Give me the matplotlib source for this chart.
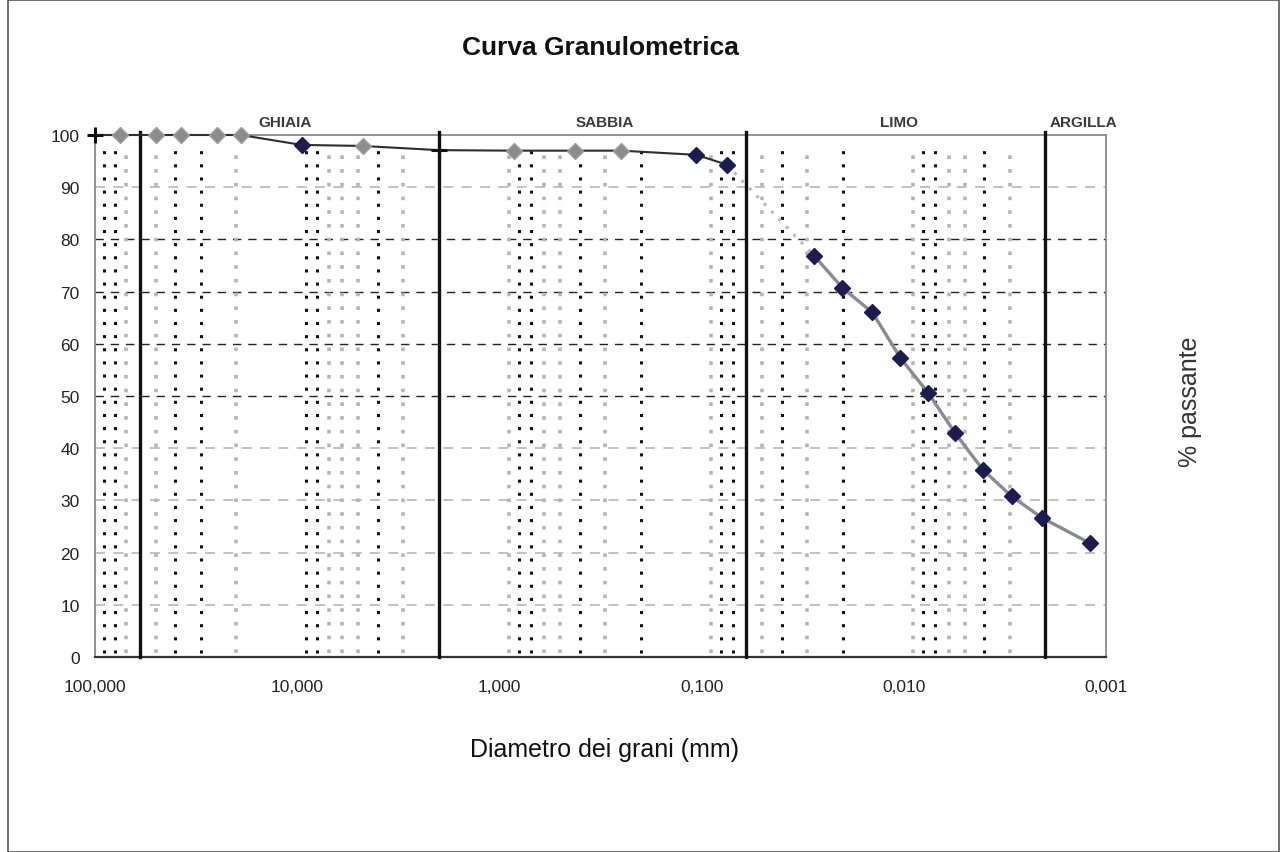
import matplotlib
matplotlib.use("Agg")
import matplotlib.pyplot as plt
from matplotlib.patches import Rectangle
from matplotlib.ticker import FixedLocator, FixedFormatter, NullLocator

plt.rcParams['font.family'] = ['Liberation Sans', 'DejaVu Sans']

# Sieve analysis: diameter (mm) and percent passing
sieve_d = [100, 75, 50, 37.5, 25, 19, 9.5, 4.75, 2, 0.85, 0.425, 0.25, 0.106, 0.075]
sieve_p = [100, 100, 100, 100, 100, 100, 98.1, 97.9, 97.1, 97.0, 97.0, 97.0, 96.2, 94.3]
# Marker tone per sieve point
sieve_tone = ['plus', 'faint', 'faint', 'faint', 'faint', 'faint', 'dark', 'faint',
              'plus', 'faint', 'faint', 'faint', 'dark', 'dark']

# Hydrometer (sedimentation) analysis
hydro_d = [0.0278, 0.0201, 0.0143, 0.0104, 0.00758, 0.0056, 0.00405, 0.00293, 0.00208, 0.0012]
hydro_p = [76.9, 70.7, 66.0, 57.3, 50.6, 43.0, 35.8, 30.8, 26.7, 21.8]

# Classification limits (mm) and class names
class_limits = [60, 2, 0.06, 0.002]
class_names = ['GHIAIA', 'SABBIA', 'LIMO', 'ARGILLA']
class_label_x = [11.5, 0.30, 0.0106, 0.0013]

# Reference diameters drawn as dotted verticals
ref_dark = [90, 80, 40, 30, 9, 8, 4, 0.8, 0.7, 0.4, 0.2, 0.08, 0.07, 0.04, 0.02,
            0.008, 0.007, 0.004]
ref_light = [70, 50, 20, 7, 6, 5, 3, 0.9, 0.6, 0.5, 0.3, 0.09, 0.05, 0.03,
             0.009, 0.006, 0.005, 0.003]

x_ticks = [100, 10, 1, 0.1, 0.01, 0.001]
x_tick_labels = ['100,000', '10,000', '1,000', '0,100', '0,010', '0,001']
y_ticks = list(range(0, 101, 10))
grid_dark = [50, 60, 70, 80]
grid_light = [10, 20, 30, 40, 90]

W, H = 1281, 853
fig = plt.figure(figsize=(W / 100, H / 100), dpi=100)
fig.patch.set_facecolor('white')

ax = fig.add_axes([95 / W, 1 - 658 / H, (1106 - 95) / W, (658 - 136) / H])
ax.set_xscale('log')
ax.set_xlim(100, 0.001)
ax.set_ylim(0, 100)

# horizontal dashed grid
for y in grid_dark:
    ax.axhline(y, color='#222222', lw=1.0, ls=(0, (6, 5)), zorder=1)
for y in grid_light:
    ax.axhline(y, color='#b8b8b8', lw=1.2, ls=(0, (6, 5)), zorder=1)

# dotted reference verticals
for d in ref_dark:
    ax.plot([d, d], [0.8, 97.5], color='#111111', lw=2.2, ls=(0, (1, 3.3)), zorder=2)
for d in ref_light:
    ax.plot([d, d], [0.8, 97.5], color='#b5b5b5', lw=2.6, ls=(0, (1, 2.8)), zorder=2)

# classification boundaries
for d in class_limits:
    ax.plot([d, d], [0, 100.5], color='#111111', lw=2.4, zorder=3, clip_on=False)

for name, xl in zip(class_names, class_label_x):
    ax.text(xl, 102.4, name, ha='center', va='center', fontsize=11,
            fontweight='bold', color='#3a3a3a', clip_on=False)

# sieve curve
ax.plot(sieve_d, sieve_p, color='#2e2e2e', lw=1.5, zorder=4, clip_on=False)
# gap between the two analyses
ax.plot([sieve_d[-1], hydro_d[0]], [sieve_p[-1], hydro_p[0]], color='#b8b8b8',
        lw=2.2, ls=(0, (1, 2.5)), zorder=4)
# hydrometer curve
ax.plot(hydro_d, hydro_p, color='#8a8a95', lw=2.4, zorder=4)
ax.plot(hydro_d, hydro_p, ls='none', marker='D', ms=8.5, color='#1c1c4e',
        mec='#1c1c4e', zorder=5)

for d, p, tone in zip(sieve_d, sieve_p, sieve_tone):
    if tone == 'plus':
        ax.plot(d, p, marker='+', ms=12, mew=2.2, color='#111111', zorder=6, clip_on=False)
    elif tone == 'faint':
        ax.plot(d, p, marker='D', ms=8, color='#8c8c8c', mec='#a0a0a0', zorder=5, clip_on=False)
    else:
        ax.plot(d, p, marker='D', ms=8.5, color='#1c1c4e', mec='#1c1c4e', zorder=5, clip_on=False)

# axes frame
for side in ['left', 'right', 'top']:
    ax.spines[side].set_color('#8a8a8a')
    ax.spines[side].set_linewidth(1.3)
ax.spines['bottom'].set_color('#333333')
ax.spines['bottom'].set_linewidth(1.6)

ax.xaxis.set_major_locator(FixedLocator(x_ticks))
ax.xaxis.set_major_formatter(FixedFormatter(x_tick_labels))
ax.xaxis.set_minor_locator(NullLocator())
ax.set_yticks(y_ticks)
ax.tick_params(axis='x', length=0, pad=16, labelsize=12.5, labelcolor='#222222')
ax.tick_params(axis='y', length=0, pad=11, labelsize=12.5, labelcolor='#222222')

fig.text(600 / W, 1 - 48 / H, 'Curva Granulometrica', ha='center', va='center',
         fontsize=19, fontweight='bold', color='#111111')
fig.text(605 / W, 1 - 750 / H, 'Diametro dei grani (mm)', ha='center', va='center',
         fontsize=18, color='#111111')
fig.text(1190 / W, 1 - 402 / H, '% passante', ha='center', va='center',
         fontsize=18, rotation=90, color='#333333')

# outer border
fig.add_artist(Rectangle((8 / W, 0.5 / H), (1279 - 8) / W, (852 - 0.5) / H,
                         transform=fig.transFigure, fill=False, ec='#555555', lw=1.2))

fig.savefig('out.png', dpi=100)
